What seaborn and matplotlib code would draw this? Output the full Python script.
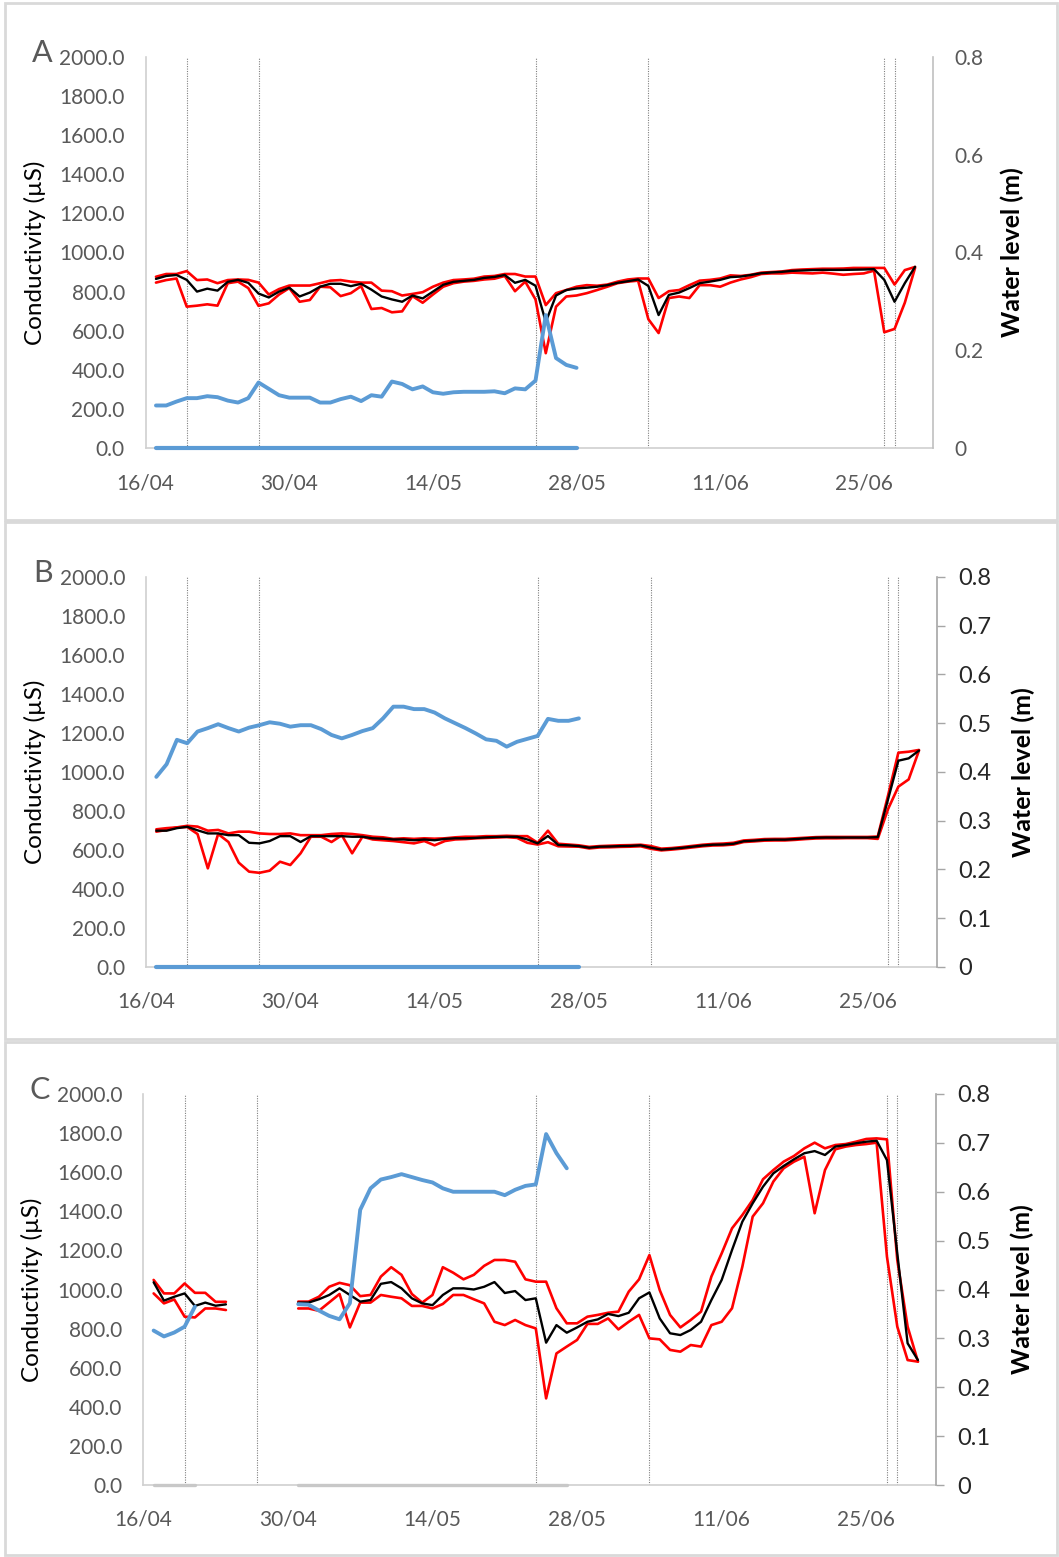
import numpy as np
import pandas as pd
import matplotlib
matplotlib.use("Agg")
import matplotlib.pyplot as plt
import seaborn as sns
from matplotlib.patches import Rectangle
from matplotlib.ticker import FuncFormatter

sns.set_style("white")
plt.rcParams["font.family"] = ["Lato", "DejaVu Sans"]

nan = np.nan

# ---------------- data ----------------
axis_start = "2017-04-16"
first_day = "2017-04-17"
tick_dates = ["2017-04-16", "2017-04-30", "2017-05-14", "2017-05-28", "2017-06-11", "2017-06-25"]
tick_labels = ["16/04", "30/04", "14/05", "28/05", "11/06", "25/06"]
event_dates = ["2017-04-20", "2017-04-27", "2017-05-24", "2017-06-04", "2017-06-27", "2017-06-28"]
panel_names = ["A", "B", "C"]

# Panel A conductivity (µS), daily from 17/04
A_mean = [865, 880, 885, 860, 800, 815, 805, 850, 860, 845,
          790, 770, 800, 820, 775, 795, 825, 840, 840, 828,
          840, 810, 775, 760, 748, 780, 765, 800, 835, 850,
          855, 860, 870, 875, 885, 845, 860, 830, 645, 780,
          808, 816, 820, 825, 833, 845, 853, 862, 829, 680,
          783, 795, 818, 843, 851, 860, 874, 877, 885, 894,
          898, 901, 906, 908, 910, 911, 911, 911, 912, 913,
          915, 860, 748, 843, 927]
A_max = [876, 890, 890, 905, 859, 862, 843, 859, 862, 860,
         846, 785, 813, 831, 831, 831, 843, 856, 859, 851,
         846, 846, 805, 802, 780, 788, 797, 825, 846, 859,
         862, 866, 877, 880, 890, 890, 877, 877, 731, 792,
         808, 825, 833, 830, 836, 851, 862, 867, 867, 767,
         802, 808, 833, 856, 860, 867, 883, 880, 886, 897,
         900, 903, 910, 913, 915, 917, 917, 918, 921, 921,
         921, 921, 836, 910, 926]
A_min = [846, 859, 867, 723, 728, 735, 728, 843, 851, 818,
         727, 740, 785, 818, 748, 757, 825, 822, 777, 792,
         828, 711, 716, 694, 699, 777, 743, 785, 825, 843,
         851, 855, 862, 866, 880, 802, 851, 760, 485, 723,
         775, 780, 792, 808, 825, 843, 851, 856, 659, 588,
         767, 775, 767, 833, 833, 825, 846, 862, 874, 890,
         893, 893, 897, 895, 893, 897, 892, 886, 890, 893,
         907, 592, 609, 743, 921]
# Panel A water level (m)
A_level = [0.087, 0.087, 0.095, 0.102, 0.102, 0.106, 0.104, 0.097, 0.093, 0.102,
           0.134, 0.121, 0.108, 0.103, 0.103, 0.103, 0.093, 0.093, 0.100, 0.105,
           0.096, 0.108, 0.105, 0.136, 0.131, 0.120, 0.126, 0.114, 0.111, 0.114,
           0.115, 0.115, 0.115, 0.116, 0.112, 0.122, 0.120, 0.138, 0.272, 0.184,
           0.170, 0.164]
A_level0 = [0, 0, 0, 0, 0, 0, 0, 0, 0, 0, 0, 0, 0, 0, 0, 0, 0, 0, 0, 0, 0,
            0, 0, 0, 0, 0, 0, 0, 0, 0, 0, 0, 0, 0, 0, 0, 0, 0, 0, 0, 0, 0]

# Panel B
B_mean = [699, 699, 712, 719, 701, 685, 685, 676, 676, 637,
          634, 646, 671, 671, 641, 671, 671, 671, 671, 668,
          668, 660, 658, 654, 654, 650, 654, 650, 657, 660,
          660, 662, 665, 667, 668, 668, 654, 634, 672, 626,
          624, 620, 612, 617, 618, 620, 621, 624, 612, 602,
          606, 611, 617, 623, 627, 628, 632, 645, 648, 652,
          653, 653, 656, 660, 663, 664, 664, 664, 664, 664,
          666, 860, 1058, 1070, 1110]
B_max = [706, 712, 716, 724, 720, 699, 703, 685, 694, 694,
         685, 682, 682, 685, 676, 676, 676, 682, 685, 682,
         676, 668, 665, 657, 660, 657, 660, 658, 660, 665,
         668, 668, 671, 671, 673, 671, 671, 637, 699, 632,
         628, 624, 616, 620, 622, 624, 625, 627, 620, 607,
         610, 615, 621, 627, 631, 633, 637, 649, 652, 656,
         657, 657, 660, 663, 666, 667, 667, 667, 667, 667,
         669, 880, 1099, 1104, 1113]
B_min = [694, 703, 716, 718, 682, 506, 682, 641, 535, 489,
         483, 494, 540, 523, 583, 668, 668, 641, 676, 583,
         668, 654, 650, 646, 640, 634, 646, 624, 646, 654,
         656, 660, 662, 664, 666, 662, 637, 628, 640, 619,
         618, 617, 608, 613, 614, 616, 617, 619, 606, 598,
         602, 607, 613, 619, 623, 624, 628, 641, 644, 648,
         649, 649, 652, 656, 659, 660, 660, 661, 661, 661,
         657, 810, 925, 962, 1110]
B_level = [0.390, 0.416, 0.466, 0.459, 0.483, 0.490, 0.498, 0.490, 0.483, 0.491,
           0.496, 0.502, 0.499, 0.493, 0.496, 0.496, 0.488, 0.476, 0.469, 0.476,
           0.484, 0.490, 0.510, 0.534, 0.534, 0.529, 0.529, 0.522, 0.510, 0.500,
           0.490, 0.479, 0.467, 0.464, 0.452, 0.462, 0.468, 0.474, 0.509, 0.505,
           0.505, 0.510]
B_level0 = [0, 0, 0, 0, 0, 0, 0, 0, 0, 0, 0, 0, 0, 0, 0, 0, 0, 0, 0, 0, 0,
            0, 0, 0, 0, 0, 0, 0, 0, 0, 0, 0, 0, 0, 0, 0, 0, 0, 0, 0, 0, 0]

# Panel C (gap 25/04 - 30/04)
C_mean = [1037, 943, 963, 980, 916, 933, 917, 924,
          nan, nan, nan, nan, nan, nan,
          933, 933, 950, 972, 1006, 972, 938, 946, 1029, 1038,
          1006, 955, 929, 920, 972, 1006, 1006, 1000, 1014, 1038,
          982, 992, 946, 955, 728, 818,
          779, 806, 835, 847, 875, 864, 881, 955, 985, 852,
          776, 767, 793, 835, 946, 1049, 1202, 1347, 1441, 1526,
          1594, 1632, 1666, 1697, 1708, 1688, 1731, 1739, 1748, 1756,
          1761, 1662, 1185, 725, 639]
C_max = [1049, 980, 980, 1031, 983, 983, 937, 937,
         nan, nan, nan, nan, nan, nan,
         938, 938, 963, 1014, 1034, 1022, 966, 972, 1066, 1114,
         1075, 977, 933, 972, 1114, 1086, 1052, 1075, 1121, 1151,
         1151, 1142, 1052, 1040, 1040, 904,
         827, 827, 861, 870, 881, 887, 989, 1052, 1176, 997,
         870, 806, 844, 887, 1066, 1185, 1313, 1381, 1458, 1564,
         1611, 1654, 1683, 1722, 1751, 1722, 1739, 1744, 1756, 1770,
         1773, 1768, 1151, 810, 631]
C_min = [980, 929, 949, 861, 857, 903, 903, 895,
         nan, nan, nan, nan, nan, nan,
         903, 903, 891, 934, 977, 806, 933, 933, 972, 963,
         955, 916, 916, 903, 926, 972, 972, 950, 929, 835,
         818, 844, 818, 801, 443, 673,
         708, 742, 824, 824, 852, 796, 835, 870, 750, 745,
         691, 682, 716, 708, 818, 835, 904, 1117, 1373, 1441,
         1552, 1620, 1654, 1679, 1390, 1611, 1717, 1731, 1739, 1744,
         1751, 1168, 810, 639, 631]
C_level = [0.316, 0.304, 0.312, 0.324, 0.365,
           nan, nan, nan, nan, nan, nan, nan, nan, nan,
           0.370, 0.369, 0.357, 0.346, 0.339, 0.372, 0.563, 0.607, 0.625, 0.630,
           0.636, 0.630, 0.624, 0.619, 0.607, 0.600, 0.600, 0.600, 0.600, 0.600,
           0.593, 0.604, 0.612, 0.615, 0.718, 0.679, 0.648]
C_level0 = [0, 0, 0, 0, 0,
            nan, nan, nan, nan, nan, nan, nan, nan, nan,
            0, 0, 0, 0, 0, 0, 0, 0, 0, 0, 0, 0, 0, 0, 0, 0, 0, 0, 0, 0,
            0, 0, 0, 0, 0, 0, 0]

panels = [
    dict(mean=A_mean, mx=A_max, mn=A_min, level=A_level, level0=A_level0),
    dict(mean=B_mean, mx=B_max, mn=B_min, level=B_level, level0=B_level0),
    dict(mean=C_mean, mx=C_max, mn=C_min, level=C_level, level0=C_level0),
]

# ---------------- styling ----------------
W, H = 1059, 1557
BLUE = "#5B9BD5"
RED = "#FF0000"
GRAY_TXT = "#595959"
ax_rects = [  # left, bottom, right, top in pixels (from top of figure)
    (145.7, 448, 932.5, 57),
    (146.0, 967, 936.5, 577),
    (143.3, 1485, 935.5, 1094),
]
boxes = [(5, 3, 1057, 520), (5, 522, 1057, 1039), (5, 1042, 1057, 1555)]
wl_label_x = [1.101, 1.110, 1.110]

fig = plt.figure(figsize=(W / 100, H / 100), dpi=100)

dates_all = pd.date_range(first_day, periods=75)
x0 = pd.Timestamp(axis_start)
x1 = x0 + pd.Timedelta(days=76.7)


def make_df(values):
    s = pd.Series(values, index=dates_all[:len(values)], dtype=float)
    df = s.rename("v").rename_axis("date").reset_index()
    df["seg"] = df["v"].isna().cumsum()
    return df.dropna()


fmt_left = FuncFormatter(lambda v, _: f"{v:.1f}")
fmt_right = FuncFormatter(lambda v, _: "0" if abs(v) < 1e-9 else f"{v:.1f}")

for k, (p, r, b) in enumerate(zip(panels, ax_rects, boxes)):
    # panel frame
    fig.add_artist(Rectangle((b[0] / W, 1 - b[3] / H), (b[2] - b[0]) / W, (b[3] - b[1]) / H,
                             transform=fig.transFigure, fill=False, ec="#D9D9D9", lw=2))
    left, bot, right, top = r
    ax = fig.add_axes([left / W, 1 - bot / H, (right - left) / W, (bot - top) / H])
    ax2 = ax.twinx()

    for ev in event_dates:
        ax.axvline(pd.Timestamp(ev), color="#808080", lw=0.8, ls=(0, (1, 1.2)), zorder=1)

    for key, col, lw in [("mx", RED, 1.9), ("mn", RED, 1.9), ("mean", "black", 1.7)]:
        sns.lineplot(data=make_df(p[key]), x="date", y="v", units="seg", estimator=None,
                     sort=False, color=col, lw=lw, ax=ax, legend=False,
                     solid_joinstyle="round", zorder=3)

    zero_col = BLUE if k < 2 else "#C8C8C8"
    sns.lineplot(data=make_df(p["level0"]), x="date", y="v", units="seg", estimator=None,
                 sort=False, color=zero_col, lw=3.0 if k < 2 else 2.4, ax=ax2, legend=False,
                 solid_capstyle="round", clip_on=False, zorder=4)
    sns.lineplot(data=make_df(p["level"]), x="date", y="v", units="seg", estimator=None,
                 sort=False, color=BLUE, lw=2.8, ax=ax2, legend=False,
                 solid_joinstyle="round")

    ax.set_xlim(x0, x1)
    ax.set_ylim(0, 2000)
    ax.set_yticks(np.arange(0, 2001, 200))
    ax.yaxis.set_major_formatter(fmt_left)
    ax.set_xticks(pd.to_datetime(tick_dates))
    ax.set_xticklabels(tick_labels)
    ax.set_xlabel("")
    ax.set_ylabel("")
    ax.tick_params(axis="y", length=0, pad=15, labelsize=15, labelcolor=GRAY_TXT)
    ax.tick_params(axis="x", length=0, pad=18, labelsize=15, labelcolor=GRAY_TXT)
    for sp in ["top", "right"]:
        ax.spines[sp].set_visible(False)
    for sp in ["left", "bottom"]:
        ax.spines[sp].set_color("#D0D0D0")
        ax.spines[sp].set_linewidth(1.2)

    ax2.set_ylim(0, 0.8)
    ax2.set_ylabel("")
    ax2.yaxis.set_major_formatter(fmt_right)
    for sp in ["top", "left", "bottom"]:
        ax2.spines[sp].set_visible(False)
    if k == 0:
        ax2.set_yticks(np.arange(0, 0.81, 0.2))
        ax2.tick_params(axis="y", length=0, pad=16, labelsize=15, labelcolor=GRAY_TXT)
        ax2.spines["right"].set_color("#C0C0C0")
    else:
        ax2.set_yticks(np.arange(0, 0.81, 0.1))
        ax2.tick_params(axis="y", length=6, width=1, color="#A6A6A6", pad=10,
                        labelsize=17, labelcolor="#262626")
        ax2.spines["right"].set_color("#A6A6A6")
    ax2.spines["right"].set_linewidth(1.2)

    ax.text(-0.141, 0.5, "Conductivity (µS)", transform=ax.transAxes, rotation=90,
            ha="center", va="center", fontsize=17.5, color="black")
    ax.text(wl_label_x[k], 0.5, "Water level (m)", transform=ax.transAxes, rotation=90,
            ha="center", va="center", fontsize=18, fontweight="bold", color="black")
    ax.text(-0.118, 0.987, panel_names[k], transform=ax.transAxes, ha="right",
            va="baseline", fontsize=22, color=GRAY_TXT)

fig.savefig("out.png", dpi=100)
